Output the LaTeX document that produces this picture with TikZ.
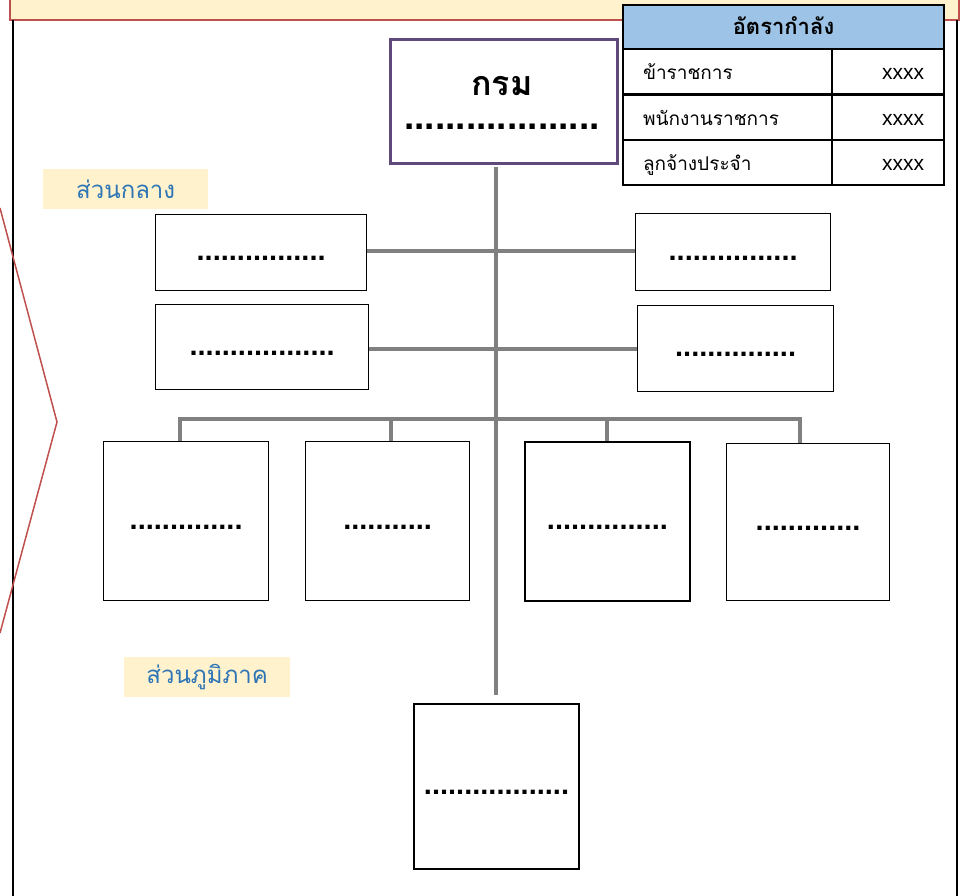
\documentclass[tikz,border=0pt]{standalone}
\usepackage{fontspec}
\setmainfont{Liberation Sans}
\newfontfamily\thaifont[Script=Thai]{Loma}
\usetikzlibrary{positioning}
\definecolor{bannerfill}{HTML}{FFF2CC}
\definecolor{bannerline}{HTML}{C0504D}
\definecolor{headfill}{HTML}{9DC3E6}
\definecolor{topline}{HTML}{5F497A}
\definecolor{labeltext}{HTML}{2E75B6}
\definecolor{linkgray}{HTML}{808080}
\tikzset{
  frame line/.style={line width=2pt, black},
  chevron line/.style={line width=1.5pt, bannerline},
  link line/.style={line width=4pt, linkgray},
  unit box/.style={draw=black, line width=1.2pt, fill=white, anchor=north west, inner sep=0pt,
    text height=20pt, text depth=4pt, font=\bfseries\fontsize{29}{34}\selectfont},
  head box/.style={draw=topline, line width=3pt, fill=white, anchor=north west, inner sep=0pt},
  part label/.style={fill=bannerfill, anchor=north west, inner sep=0pt, text=labeltext,
    font=\thaifont\fontsize{24}{28}\selectfont},
  rate cell/.style={draw=black, line width=2pt, fill=white, anchor=north west, minimum height=45,
    inner ysep=0pt, inner xsep=20pt, text height=20pt, text depth=4pt},
}
\newcommand{\unitdots}[1]{\foreach \k in {1,...,#1}{.}}

\begin{document}
\begin{tikzpicture}[x=1pt, y=-1pt]
  \useasboundingbox (0,0) rectangle (961,896);
  \clip (0,0) rectangle (961,896);
  % banner and frame
  \draw[chevron line, fill=bannerfill] (10,-20) rectangle (959,20);
  \draw[frame line] (13,20) -- (13,896);
  \draw[frame line] (957,20) -- (957,896);
  \draw[chevron line] (0,208) -- (57,422) -- (0,633);
  % connectors
  \coordinate (bus) at (496,419);
  \coordinate (trunktop) at (496,167);
  \coordinate (trunkend) at (496,695);
  \draw[link line] (trunktop) -- (trunkend);
  % head unit
  \node[head box, minimum width=227, minimum height=124] (dept) at (389,38) {};
  \node[inner sep=0pt, text height=24pt, text depth=2pt, anchor=base,
    font=\thaifont\bfseries\fontsize{34}{38}\selectfont] (deptname) at (502,96) {กรม};
  \node[inner sep=0pt, text height=5pt, text depth=0pt, anchor=base,
    font=\bfseries\fontsize{37}{40}\selectfont] (deptdots) at (502,130)
    {\unitdots{19}};
  % central units
  \node[unit box, minimum width=211, minimum height=76] (cl1) at (155,214) {\unitdots{16}};
  \node[unit box, minimum width=195, minimum height=77] (cr1) at (635,213) {\unitdots{16}};
  \node[unit box, minimum width=213, minimum height=85] (cl2) at (155,304) {\unitdots{18}};
  \node[unit box, minimum width=196, minimum height=86] (cr2) at (637,305) {\unitdots{15}};
  \draw[link line] ([yshift=2pt]cl1.east) -- ([yshift=2pt]cl1.east -| cr1.west);
  \draw[link line] ([yshift=-2pt]cl2.east) -- ([yshift=-2pt]cl2.east -| cr2.west);
  % lower units
  \node[unit box, minimum width=165, minimum height=159] (low1) at (103,441) {\unitdots{14}};
  \node[unit box, minimum width=164, minimum height=159] (low2) at (305,441) {\unitdots{11}};
  \node[unit box, line width=1.8pt, minimum width=165, minimum height=159] (low3) at (524,441) {\unitdots{15}};
  \node[unit box, minimum width=163, minimum height=157] (low4) at (726,443) {\unitdots{13}};
  \draw[link line] ([xshift=-6pt]low1.north) |- (bus) -| ([xshift=-8pt]low4.north);
  \draw[link line] ([xshift=3pt]low2.north) -- ([xshift=3pt]low2.north |- bus);
  \draw[link line] (low3.north) -- (low3.north |- bus);
  % regional unit
  \node[unit box, line width=2pt, minimum width=165, minimum height=165] (reg) at (413,703) {\unitdots{18}};
  % part labels
  \node[part label, minimum width=165, minimum height=40] (central) at (43,169) {ส่วนกลาง};
  \node[part label, minimum width=166, minimum height=40] (regional) at (124,657) {ส่วนภูมิภาค};
  % staffing table
  \node[rate cell, fill=headfill, minimum width=321, minimum height=44,
    font=\thaifont\bfseries\fontsize{22}{26}\selectfont] (ratehead) at (622,4) {อัตรากำลัง};
  \foreach \lab/\y [count=\i] in {ข้าราชการ/48, พนักงานราชการ/94, ลูกจ้างประจำ/139}{
    \node[rate cell, text width=169, align=left, font=\thaifont\fontsize{19}{22}\selectfont]
      (ratename\i) at (622,\y) {\lab};
    \node[rate cell, text width=72, align=right, font=\fontsize{21}{24}\selectfont]
      (rateval\i) at (831,\y) {xxxx};
  }
\end{tikzpicture}
\end{document}
